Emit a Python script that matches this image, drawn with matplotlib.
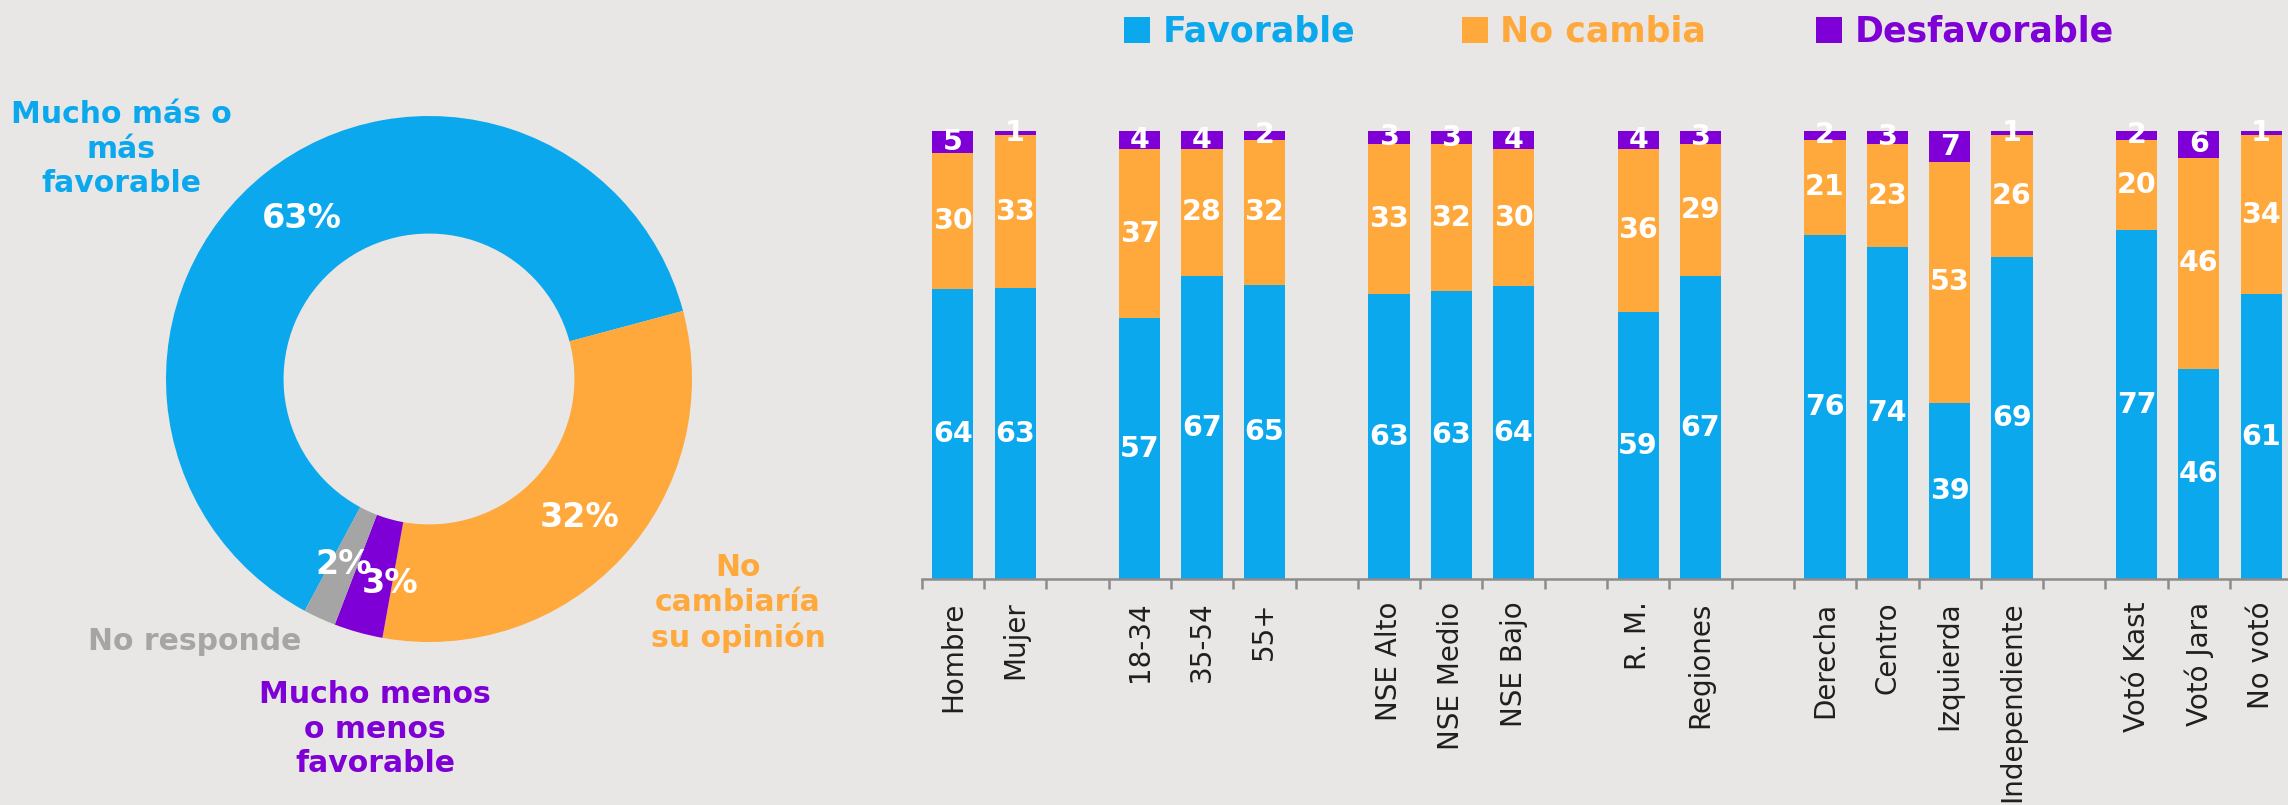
import numpy as np
import matplotlib
matplotlib.use("Agg")
import matplotlib.pyplot as plt
from matplotlib.patches import Rectangle

W, H = 2288, 805
BG      = "#E8E7E5"
BLUE    = "#0BA8EE"
ORANGE  = "#FFA83B"
PURPLE  = "#7E00D6"
GRAY    = "#A5A5A5"
AXGRAY  = "#8C8C8C"

plt.rcParams["font.family"] = ["DejaVu Sans"]

# Donut data
donut_labels = ["Mucho más o\nmás\nfavorable", "No\ncambiaría\nsu opinión",
                "Mucho menos\no menos\nfavorable", "No responde"]
donut_values = [63, 32, 3, 2]
donut_colors = [BLUE, ORANGE, PURPLE, GRAY]

# Stacked bar data (groups separated by a blank slot)
categories = ["Hombre", "Mujer",
              "18-34", "35-54", "55+",
              "NSE Alto", "NSE Medio", "NSE Bajo",
              "R. M.", "Regiones",
              "Derecha", "Centro", "Izquierda", "Independiente",
              "Votó Kast", "Votó Jara", "No votó"]
group_sizes = [2, 3, 3, 2, 4, 3]
favorable     = [64, 63, 57, 67, 65, 63, 63, 64, 59, 67, 76, 74, 39, 69, 77, 46, 61]
no_cambia     = [30, 33, 37, 28, 32, 33, 32, 30, 36, 29, 21, 23, 53, 26, 20, 46, 34]
desfavorable  = [5, 1, 4, 4, 2, 3, 3, 4, 4, 3, 2, 3, 7, 1, 2, 6, 1]
series_names  = ["Favorable", "No cambia", "Desfavorable"]


def px(x, y):
    """pixel (from top-left) -> figure fraction"""
    return x / W, 1 - y / H


fig = plt.figure(figsize=(W / 100, H / 100), dpi=100, facecolor=BG)

# -- Donut --
cx, cy, r = 429, 379, 263
ax_d = fig.add_axes([(cx - r) / W, 1 - (cy + r) / H, 2 * r / W, 2 * r / H])
ax_d.set_facecolor(BG)
hole = 0.553
start = 15 + 360 * donut_values[0] / 100   # blue/orange boundary sits at 15 deg
wedges, _ = ax_d.pie(donut_values, colors=donut_colors, startangle=start,
                     counterclock=False, radius=1,
                     wedgeprops=dict(width=1 - hole, linewidth=0))
ax_d.set_xlim(-1, 1)
ax_d.set_ylim(-1, 1)
ax_d.set_aspect("equal")
ax_d.axis("off")

rmid = (1 + hole) / 2
nudges = [(0, 0), (0, 0), (0.06, -0.03), (0, 0)]
for w, v, (dx, dy) in zip(wedges, donut_values, nudges):
    ang = np.deg2rad((w.theta1 + w.theta2) / 2)
    ax_d.text(rmid * np.cos(ang) + dx, rmid * np.sin(ang) + dy, f"{v}%",
              ha="center", va="center", color="white", fontsize=24,
              fontweight="bold", zorder=5)

label_pos = [(121, 149), (738, 603), (375, 729), (195, 641)]
for txt, col, (x, y) in zip(donut_labels, donut_colors, label_pos):
    fig.text(*px(x, y), txt, ha="center", va="center", color=col,
             fontsize=21.5, fontweight="bold", linespacing=1.25)

# -- Stacked bars --
positions = []
slot = 0
for n in group_sizes:
    positions.extend(range(slot, slot + n))
    slot += n + 1
n_slots = slot - 1
slot_w = 62.3
left_px, base_px, top_px = 921.7, 579.3, 130.7
ax = fig.add_axes([left_px / W, 1 - base_px / H,
                   n_slots * slot_w / W, (base_px - top_px) / H])
ax.set_facecolor(BG)

fav = np.array(favorable, float)
noc = np.array(no_cambia, float)
des = np.array(desfavorable, float)
tot = fav + noc + des
segs = [fav / tot * 100, noc / tot * 100, des / tot * 100]
raw = [favorable, no_cambia, desfavorable]
cols = [BLUE, ORANGE, PURPLE]

bottom = np.zeros(len(categories))
for seg, vals, col in zip(segs, raw, cols):
    ax.bar(positions, seg, bottom=bottom, width=0.66, color=col, linewidth=0)
    for x, b, h, v in zip(positions, bottom, seg, vals):
        ax.text(x, b + h / 2, str(v), ha="center", va="center", color="white",
                fontsize=20.5, fontweight="bold")
    bottom += seg

ax.set_xlim(-0.5, n_slots - 0.5)
ax.set_ylim(0, 100)
ax.set_yticks([])
for s in ["top", "right", "left"]:
    ax.spines[s].set_visible(False)
ax.spines["bottom"].set_color(AXGRAY)
ax.spines["bottom"].set_linewidth(1.8)

ax.set_xticks(positions)
ax.set_xticklabels(categories, rotation=90, fontsize=20, color="#1F1F1F")
ax.tick_params(axis="x", which="major", length=0, pad=16)
ax.set_xticks(np.arange(-0.5, n_slots, 1.0), minor=True)
ax.tick_params(axis="x", which="minor", length=7.5, width=1.8, color=AXGRAY)

# -- Legend across the top --
leg_x = [1124, 1462, 1816]
for name, col, x in zip(series_names, cols, leg_x):
    fig.add_artist(Rectangle(px(x, 42.7), 26 / W, 25.4 / H,
                             transform=fig.transFigure, color=col, linewidth=0))
    fig.text(*px(x + 38.5, 41.7), name, ha="left", va="baseline", color=col,
             fontsize=25, fontweight="bold")

fig.savefig("out.png", dpi=100, facecolor=BG)
plt.close(fig)
